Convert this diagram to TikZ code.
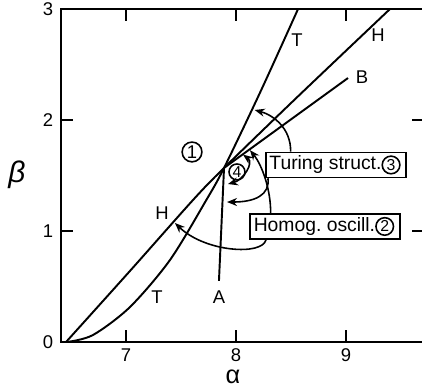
\documentclass[tikz,border=0pt]{standalone}
\usepackage{fontspec}
\setmainfont{Liberation Sans}
\usetikzlibrary{calc,arrows.meta}
\tikzset{
  crv/.style    ={line width=1.1pt, line join=round},
  axl/.style    ={line width=1.1pt},
  tck/.style    ={line width=1.1pt},
  num/.style    ={font=\fontsize{10.5}{12}\selectfont, inner sep=0pt},
  lab/.style    ={font=\fontsize{10.5}{12}\selectfont, inner sep=0pt},
  axname/.style ={font=\fontsize{17}{18}\selectfont, inner sep=0pt},
  ring/.style   ={circle, draw, line width=0.9pt, inner sep=0.7pt,
                  font=\fontsize{9}{10}\selectfont},
  regbox/.style ={draw, line width=0.9pt, inner sep=2pt,
                  font=\fontsize{11}{12}\selectfont},
  flow/.style   ={-{Stealth[length=2mm,width=1.6mm]}, line width=0.9pt},
  flow2/.style  ={{Stealth[length=2mm,width=1.6mm]}-{Stealth[length=2mm,width=1.6mm]}, line width=0.9pt},
}

\begin{document}
\begin{tikzpicture}[x=2.2cm, y=2.22cm]
  \useasboundingbox (5.8545,-0.4054) rectangle (9.6909,3.0811);

  % ---- frame and ticks ----
  \draw[axl] (9.75,3) -- (6.409,3) -- (6.409,0) -- (9.75,0);
  \foreach \a in {7,8,9} {
    \draw[tck] (\a,0) -- (\a,0.108);
    \draw[tck] (\a,3) -- (\a,2.892);
    \node[num] (xl\a) at (\a,-0.115) {\a};
  }
  \foreach \b in {1,2} {
    \draw[tck] (6.409,\b) -- (6.518,\b);
    \draw[tck] (9.60,\b) -- (9.75,\b);
  }
  \foreach \b in {0,...,3}
    \node[num] (yl\b) at (6.29,\b) {\b};
  \node[axname, font=\fontsize{14.4}{16}\selectfont] (alab) at (7.973,-0.31) {α};
  \node[axname] (blab) at (6.009,1.505) {\itshape β};

  % ---- bifurcation lines ----
  \coordinate (C) at (7.891,1.568);
  \draw[crv] plot[smooth] coordinates {(6.464,0) (6.70,0.063) (7.036,0.315)
        (7.40,0.739) (7.73,1.279) (7.891,1.568) (8.227,2.265) (8.564,3)};
  \draw[crv] plot[smooth] coordinates {(6.455,0) (7.036,0.640) (7.609,1.279)
        (7.891,1.568) (8.55,2.2) (9.40,3)};
  \draw[crv] (C) -- (9.018,2.378) coordinate (Bend);
  \draw[crv] (7.845,0.550) coordinate (Aend) -- (C);

  % ---- line labels ----
  \node[lab] (Tup) at (8.555,2.721) {T};
  \node[lab] (Hup) at (9.291,2.766) {H};
  \node[lab] (Blab) at (9.145,2.387) {B};
  \node[lab] (Hlo) at (7.327,1.162) {H};
  \node[lab] (Tlo) at (7.282,0.405) {T};
  \node[lab] (Alab) at (7.845,0.405) {A};

  % ---- regions ----
  \node[ring, font=\fontsize{10.5}{12}\selectfont] (r1) at (7.60,1.712) {1};
  \node[ring, inner sep=0.4pt] (r4) at (8.009,1.532) {4};
  \node[regbox, minimum width=2.78cm, minimum height=0.48cm] (ts) at (8.909,1.595)
        {Turing struct.\rule{12pt}{0pt}};
  \node[ring] (r3) at ([xshift=-9pt]ts.east) {3};
  \node[regbox, minimum width=2.96cm, minimum height=0.5cm] (ho) at (8.809,1.041)
        {Homog.\ oscill.\rule{12pt}{0pt}};
  \node[ring] (r2) at ([xshift=-9pt]ho.east) {2};

  % ---- extent arcs ----
  \draw[flow] ($(ts.north west)!0.18!(ts.north east)$)
        .. controls (8.500,1.928) and (8.336,2.045) .. (8.17,2.09);
  \draw[flow] ($(ts.south west)!0.02!(ts.south east)$)
        .. controls (8.309,1.324) and (8.173,1.261) .. (7.918,1.261);
  \draw[flow] ($(ho.north west)!0.14!(ho.north east)$)
        .. controls (8.318,1.369) and (8.236,1.595) .. (8.127,1.728);
  \draw[flow] ($(ho.south west)!0.11!(ho.south east)$)
        .. controls (8.236,0.775) and (7.718,0.811) .. (7.445,1.072);
  \draw[flow2] (8.064,1.688) .. controls (8.165,1.613) and (8.065,1.460) .. (7.927,1.423);

\end{tikzpicture}
\end{document}
